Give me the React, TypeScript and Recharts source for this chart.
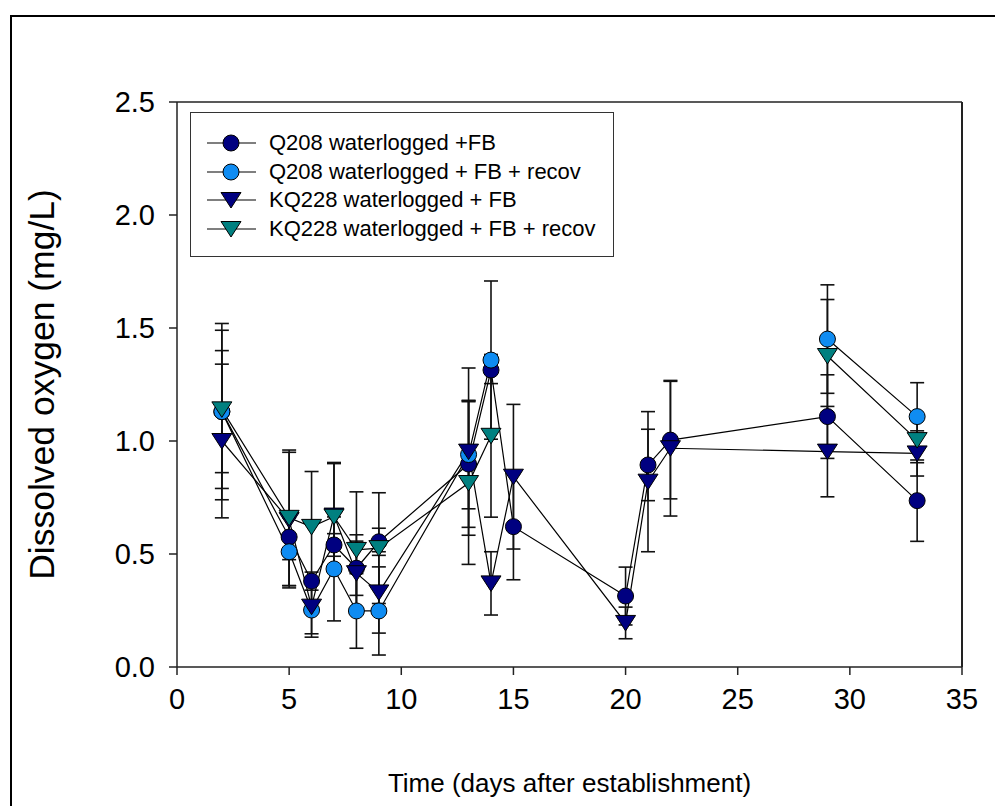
import React from 'react';
import { LineChart, Line, XAxis, YAxis, ErrorBar, ReferenceLine, Label } from 'recharts';

const FONT = '"Liberation Sans", Arial, sans-serif';

const days = [2, 5, 6, 7, 8, 9, 13, 14, 15, 20, 21, 22, 29, 33];

const q208Fb = [1.13, 0.575, 0.38, 0.54, 0.437, 0.554, 0.898, 1.314, 0.621, 0.314, 0.894, 1.004, 1.108, 0.736];
const q208FbErr = [0.27, 0.1, 0.04, 0.05, 0.12, 0.06, 0.28, 0.06, 0.235, 0.128, 0.158, 0.26, 0.185, 0.18];

const q208Recov = [1.13, 0.51, 0.252, 0.434, 0.248, 0.248, 0.94, 1.358, null, null, null, null, 1.451, 1.108];
const q208RecovErr = [0.39, 0.15, 0.12, 0.23, 0.165, 0.195, 0.24, 0.35, null, null, null, null, 0.24, 0.15];

const kq228Fb = [1.0, 0.65, 0.267, 0.67, 0.415, 0.33, 0.953, 0.37, 0.842, 0.195, 0.82, 0.968, 0.953, 0.945];
const kq228FbErr = [0.34, 0.3, 0.12, 0.23, 0.17, 0.18, 0.37, 0.14, 0.32, 0.07, 0.31, 0.3, 0.2, 0.1];

const kq228Recov = [1.14, 0.66, 0.62, 0.665, 0.518, 0.526, 0.814, 1.023, null, null, null, null, 1.376, 1.004];
const kq228RecovErr = [0.35, 0.3, 0.245, 0.24, 0.257, 0.245, 0.36, 0.36, null, null, null, null, 0.25, 0.1];

const xTicks = [0, 5, 10, 15, 20, 25, 30, 35];
const yTicks = [0, 0.5, 1.0, 1.5, 2.0, 2.5];

const data = days.map((d, i) => ({
  day: d,
  a: q208Fb[i], aErr: q208FbErr[i],
  b: q208Recov[i], bErr: q208RecovErr[i],
  c: kq228Fb[i], cErr: kq228FbErr[i],
  d: kq228Recov[i], dErr: kq228RecovErr[i],
}));

const NAVY = '#000080';
const LIGHT = '#0f8cf2';
const TEAL = '#008080';

const series = [
  { key: 'a', name: 'Q208 waterlogged +FB', color: NAVY, shape: 'circle' },
  { key: 'b', name: 'Q208 waterlogged + FB + recov', color: LIGHT, shape: 'circle' },
  { key: 'c', name: 'KQ228 waterlogged + FB', color: NAVY, shape: 'tri' },
  { key: 'd', name: 'KQ228 waterlogged + FB + recov', color: TEAL, shape: 'tri' },
];

const Marker = ({ cx, cy, shape, color }: any) => {
  if (shape === 'circle') {
    return <circle cx={cx} cy={cy} r={8} fill={color} stroke="#000" strokeWidth={1} />;
  }
  return (
    <polygon
      points={`${cx - 10},${cy - 7.5} ${cx + 10},${cy - 7.5} ${cx},${cy + 8}`}
      fill={color}
      stroke="#000"
      strokeWidth={1}
    />
  );
};

const makeDot = (shape: string, color: string) => (props: any) => {
  const { cx, cy, index, payload, dataKey } = props;
  if (cy == null || payload[dataKey] == null) return <g key={`e-${index}`} />;
  return <Marker key={`m-${index}`} cx={cx} cy={cy} shape={shape} color={color} />;
};

const LegendBox = () => (
  <div
    style={{
      position: 'absolute', left: 190, top: 112, width: 422, height: 143,
      border: '1px solid #333', background: '#fff', fontFamily: FONT, fontSize: 22,
    }}
  >
    {series.map((s, i) => (
      <div key={s.key} style={{ position: 'absolute', left: 0, top: 16 + i * 28.6, height: 28, display: 'flex', alignItems: 'center' }}>
        <svg width={78} height={28}>
          <line x1={16} y1={14} x2={65} y2={14} stroke="#000" strokeWidth={1.2} />
          <Marker cx={40} cy={14} shape={s.shape} color={s.color} />
        </svg>
        <span style={{ whiteSpace: 'nowrap', color: '#000' }}>{s.name}</span>
      </div>
    ))}
  </div>
);

export default function App() {
  return (
    <div style={{ position: 'absolute', left: 0, top: 0, width: 995, height: 806, overflow: 'hidden', background: '#fff' }}>
      <div
        style={{
          position: 'absolute', left: 10, top: 15, width: 2000, height: 2000,
          borderLeft: '2.5px solid #000', borderTop: '2.5px solid #000',
        }}
      />
      <div style={{ position: 'absolute', left: 0, top: 0 }}>
        <LineChart
          width={995}
          height={806}
          data={data}
          margin={{ top: 102, right: 33, bottom: 0, left: 0 }}
        >
          <XAxis
            dataKey="day"
            type="number"
            domain={[0, 35]}
            ticks={xTicks}
            interval={0}
            height={139}
            tickSize={8}
            tickMargin={13}
            stroke="#222"
            strokeWidth={1.5}
            tick={{ fill: '#000', fontSize: 29, fontFamily: FONT }}
          >
            <Label
              value="Time (days after establishment)"
              position="center"
              dy={46}
              style={{ fontSize: 26, fontFamily: FONT, fill: '#000' }}
            />
          </XAxis>
          <YAxis
            type="number"
            domain={[0, 2.5]}
            ticks={yTicks}
            interval={0}
            width={177}
            tickSize={8}
            tickMargin={14}
            stroke="#222"
            strokeWidth={1.5}
            tickFormatter={(v: number) => v.toFixed(1)}
            tick={{ fill: '#000', fontSize: 29, fontFamily: FONT }}
          >
            <Label
              value="Dissolved oxygen (mg/L)"
              angle={-90}
              position="center"
              dx={-47}
              style={{ fontSize: 35.5, fontFamily: FONT, fill: '#000', textAnchor: 'middle' }}
            />
          </YAxis>
          <ReferenceLine y={2.5} stroke="#222" strokeWidth={1.5} />
          <ReferenceLine x={35} stroke="#222" strokeWidth={2} />
          {series.map((s) => (
            <Line
              key={s.key}
              dataKey={s.key}
              name={s.name}
              stroke="#000"
              strokeWidth={1.2}
              isAnimationActive={false}
              dot={makeDot(s.shape, s.color)}
              activeDot={false}
            >
              <ErrorBar dataKey={`${s.key}Err`} width={7} stroke="#111" strokeWidth={1.6} direction="y" />
            </Line>
          ))}
        </LineChart>
      </div>
      <LegendBox />
    </div>
  );
}
